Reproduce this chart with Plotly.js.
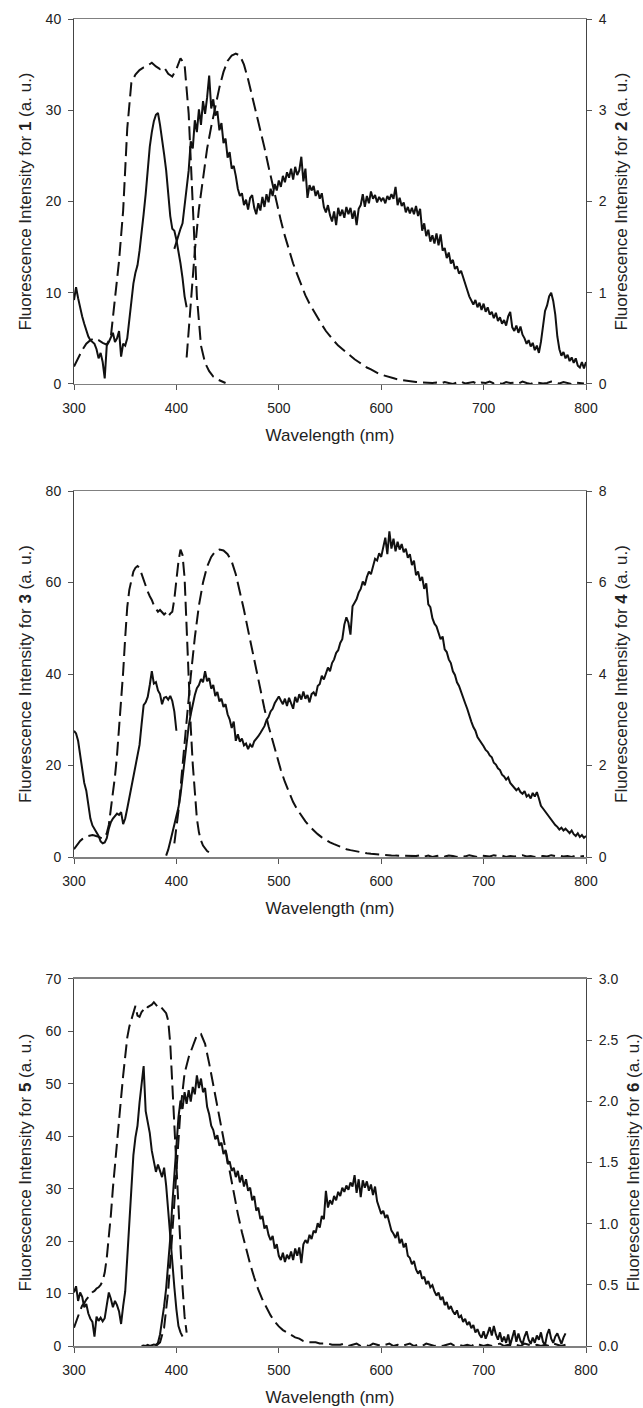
<!DOCTYPE html>
<html><head><meta charset="utf-8">
<script src="https://cdn.plot.ly/plotly-3.0.1.min.js"></script>
<style>html,body{margin:0;padding:0;background:#fff}#chart{width:643px;height:1408px}</style>
</head><body><div id="chart"></div>
<script>
// ---------- data (wavelength grids: start nm, step nm) ----------
const wavelengthTicks = [300, 400, 500, 600, 700, 800];

// Panel 1: compound 1 (solid, left axis), compound 2 (dashed, right axis)
const p1ExStart = 300, p1ExStep = 2;
const p1Ex1 = [9.2,10.6,9.4,8.2,7.4,6.6,5.8,5.2,4.8,4.6,4.4,3.8,2.8,3.4,2.4,0.6,4.2,4.6,5.2,5.6,4.6,5.0,5.8,3.0,4.4,4.2,5.0,7.2,9.6,11.0,12.2,13.0,14.6,16.4,18.6,20.8,23.6,26.0,27.6,28.8,29.5,29.7,28.4,27.0,25.2,23.4,20.6,18.4,17.0,16.8,15.8,14.6,13.2,11.6,9.6,8.4];
const p1EmStart = 398, p1EmStep = 2;
const p1Em1 = [14.8,15.6,16.2,17.0,17.6,19.4,21.2,23.4,26.6,25.8,28.9,27.6,30.1,28.4,31.0,29.6,31.4,33.8,30.2,31.2,29.4,29.9,27.8,28.6,26.4,26.9,24.8,25.4,23.6,23.9,22.8,21.4,20.6,20.9,19.6,20.2,19.1,20.4,20.7,19.3,18.6,19.8,19.0,20.5,19.4,20.8,19.9,21.4,20.6,21.9,21.2,22.3,21.6,22.8,22.1,23.2,22.6,23.6,22.4,23.8,22.9,23.4,24.9,22.2,23.6,20.4,21.8,21.2,21.7,20.6,21.2,20.3,20.9,19.4,18.8,19.6,18.5,17.8,18.9,17.4,19.3,18.4,19.1,18.2,19.4,18.6,19.3,18.1,19.0,17.4,19.2,19.6,20.8,19.4,20.6,19.8,21.1,20.3,20.7,19.9,20.5,20.1,20.4,19.8,20.6,20.2,20.8,20.3,21.6,19.6,20.4,19.5,19.9,18.8,19.4,18.7,19.3,18.6,19.5,18.4,19.2,16.8,17.6,16.2,16.9,15.6,16.3,15.4,16.5,15.2,16.4,14.6,14.9,13.8,14.4,13.2,13.6,12.6,12.9,12.1,12.4,11.6,10.9,10.3,9.6,9.1,8.7,9.2,8.4,8.9,8.1,8.8,7.9,8.4,7.6,7.9,7.2,7.8,6.9,7.3,6.6,7.0,6.4,7.4,7.9,6.2,5.8,6.4,5.6,6.3,5.4,5.0,4.4,4.8,4.1,4.5,3.7,4.2,3.4,4.6,6.4,8.0,8.6,9.6,10.0,9.1,7.6,5.2,3.8,3.1,3.5,2.8,3.2,2.5,2.9,2.3,2.8,2.0,1.8,2.4,1.7,2.4];
const p1DExStart = 300, p1DExStep = 4;
const p1Ex2 = [0.19,0.28,0.37,0.44,0.48,0.50,0.48,0.45,0.43,0.52,0.96,1.35,1.90,2.80,3.30,3.39,3.44,3.47,3.49,3.52,3.48,3.45,3.47,3.40,3.37,3.45,3.57,3.50,2.96,1.98,0.96,0.42,0.23,0.14,0.08,0.05,0.03,0.01];
const p1DEmStart = 410, p1DEmStep = 4;
const p1Em2 = [0.29,0.92,1.46,1.92,2.28,2.58,2.82,3.04,3.25,3.42,3.54,3.60,3.62,3.60,3.50,3.34,3.16,2.98,2.79,2.59,2.38,2.18,1.98,1.79,1.62,1.46,1.32,1.20,1.08,0.97,0.88,0.80,0.72,0.65,0.58,0.52,0.47,0.42,0.38,0.34,0.30,0.27,0.24,0.21,0.18,0.16,0.13,0.11,0.095,0.08,0.068,0.056,0.046,0.038,0.032,0.026,0.022,0.018,0.015,0.012,0.010,0.015,0.005,0.02,0.01,0.00,0.015,0.025,0.005,0.01,0.02,0.00,0.015,0.01,0.025,0.005,0.015,0.00,0.02,0.01,0.015,0.005,0.025,0.01,0.00,0.02,0.015,0.005,0.01,0.025,0.015,0.005,0.02,0.01,0.00,0.015,0.01,0.005];

// Panel 2: compound 3 (solid, left), compound 4 (dashed, right)
const p2ExStart = 300, p2ExStep = 2;
const p2Ex3 = [27.6,27.0,25.4,22.6,19.8,16.2,14.5,11.6,8.4,6.9,6.2,5.4,4.6,3.4,3.0,3.2,4.1,6.2,7.6,8.4,9.0,9.5,9.2,9.8,7.2,8.4,10.6,12.8,14.9,17.1,19.4,21.6,24.5,29.0,33.2,33.8,35.0,37.6,40.6,37.9,38.2,36.4,35.6,33.4,34.8,35.0,34.4,35.2,34.1,31.8,27.6];
const p2EmStart = 390, p2EmStep = 2;
const p2Em3 = [0.3,1.6,3.4,5.2,6.8,8.9,10.8,13.6,17.2,21.4,25.4,28.6,31.2,33.6,35.4,36.9,37.6,38.9,38.2,40.6,38.4,39.1,36.8,37.6,35.2,36.1,34.0,34.6,32.8,33.4,31.2,30.1,28.2,29.6,25.4,26.8,25.2,25.9,24.4,24.8,23.6,24.6,24.0,25.3,25.8,26.4,27.1,27.8,28.6,29.9,30.6,31.8,32.4,33.6,34.4,35.1,34.2,33.4,34.6,33.0,34.8,33.6,32.4,35.0,33.8,35.6,34.4,36.2,34.6,35.4,33.8,35.6,36.0,35.2,37.4,37.8,39.6,38.8,40.2,41.4,40.6,42.4,43.2,44.6,45.2,46.8,47.6,50.8,52.4,51.2,48.6,54.8,55.6,56.4,57.8,58.6,60.2,59.4,61.2,62.4,61.8,63.6,65.2,64.8,66.4,65.6,67.6,69.8,66.2,71.2,67.4,69.6,66.8,68.9,67.2,68.4,66.6,67.4,65.4,66.2,63.8,64.8,61.6,62.4,60.4,61.2,58.6,59.8,55.2,54.6,52.2,51.0,50.4,48.8,47.6,48.2,45.4,44.8,43.2,42.4,40.6,39.8,38.2,37.4,36.0,34.8,33.6,32.4,30.8,29.6,28.4,27.6,26.2,25.6,24.8,24.2,23.4,23.0,22.2,21.8,20.6,20.2,19.4,19.0,18.0,17.6,16.9,17.4,16.2,15.6,15.2,14.6,15.0,14.2,13.8,14.4,13.2,13.6,12.8,14.0,13.2,14.2,12.8,11.2,10.6,10.0,9.4,8.8,8.0,7.6,7.0,6.6,6.0,6.4,5.8,6.2,5.6,5.2,5.8,5.0,4.6,5.2,4.4,4.8,4.2,4.6];
const p2DExStart = 300, p2DExStep = 2;
const p2Ex4 = [0.17,0.24,0.30,0.35,0.39,0.42,0.44,0.46,0.47,0.48,0.47,0.46,0.44,0.42,0.41,0.43,0.52,0.70,1.02,1.36,1.76,2.22,2.80,3.40,4.04,4.80,5.46,5.84,6.08,6.24,6.32,6.36,6.32,6.18,6.06,5.94,5.80,5.70,5.62,5.50,5.42,5.36,5.40,5.34,5.30,5.34,5.26,5.32,5.36,5.64,6.06,6.46,6.72,6.60,6.10,4.90,3.80,2.84,2.02,1.36,0.84,0.54,0.36,0.25,0.18,0.13,0.10];
const p2DEmStart = 398, p2DEmStep = 4;
const p2Em4 = [0.30,1.00,2.00,3.00,3.95,4.80,5.50,6.00,6.35,6.56,6.68,6.72,6.70,6.62,6.46,6.18,5.82,5.40,4.96,4.52,4.08,3.64,3.24,2.86,2.52,2.20,1.90,1.64,1.40,1.20,1.04,0.90,0.78,0.67,0.58,0.50,0.43,0.37,0.32,0.28,0.24,0.20,0.17,0.15,0.13,0.11,0.09,0.08,0.07,0.06,0.05,0.045,0.04,0.035,0.03,0.025,0.02,0.02,0.015,0.02,0.04,0.01,0.03,0.00,0.02,0.04,0.01,0.03,0.02,0.00,0.03,0.01,0.04,0.02,0.00,0.03,0.02,0.01,0.04,0.02,0.03,0.00,0.02,0.01,0.03,0.04,0.01,0.02,0.00,0.03,0.02,0.01,0.04,0.02,0.03,0.01,0.02,0.00,0.03,0.01,0.02];

// Panel 3: compound 5 (solid, left), compound 6 (dashed, right)
const p3ExStart = 300, p3ExStep = 2;
const p3Ex5 = [10.2,11.4,8.6,10.2,9.4,7.4,8.0,6.2,5.2,4.6,1.8,5.6,4.8,5.4,4.7,5.3,7.8,10.2,9.0,7.4,8.6,7.8,6.6,4.2,7.6,10.4,16.8,23.6,30.2,36.4,39.8,42.0,46.4,49.6,53.4,44.8,43.0,40.6,37.2,34.8,33.2,34.6,33.4,32.2,34.0,30.6,25.8,20.6,15.8,11.2,7.0,3.8,2.6,1.8];
const p3EmStart = 366, p3EmStep = 2;
const p3Em5 = [0.0,0.1,0.0,0.2,0.0,0.1,0.3,0.2,0.6,2.2,4.6,7.6,11.0,15.4,20.6,27.0,33.2,39.4,43.6,46.8,45.2,48.4,46.2,48.8,46.6,49.4,48.0,51.6,49.2,51.0,48.4,49.2,45.6,44.2,42.0,41.2,39.4,40.2,38.2,38.8,36.6,37.4,34.8,35.2,33.4,34.0,32.2,33.4,31.2,32.6,30.4,31.8,29.6,30.2,27.8,28.6,25.8,26.4,24.2,24.8,22.4,23.0,21.2,20.2,21.0,18.6,19.4,17.2,16.4,17.8,16.0,17.4,16.6,18.0,16.4,18.6,17.2,18.8,15.8,19.4,20.2,19.6,21.2,20.4,22.0,21.6,23.4,22.6,24.8,24.2,29.6,26.4,27.8,27.0,28.6,27.8,29.4,28.6,30.2,29.4,30.6,29.8,31.2,30.4,32.6,29.2,31.8,28.4,31.6,30.2,31.4,29.6,30.8,28.8,30.4,27.6,26.4,25.2,25.8,24.4,25.0,23.2,22.0,21.4,20.6,21.8,19.6,20.4,18.8,19.6,17.2,16.8,15.6,16.2,14.6,13.8,14.4,12.8,13.2,11.8,12.4,11.2,11.6,10.4,9.6,10.2,8.8,9.4,7.8,8.4,7.0,7.6,6.6,6.0,6.8,5.4,5.8,4.6,5.2,4.0,4.6,3.4,4.0,2.6,3.2,2.2,1.6,2.8,1.4,2.4,3.6,2.0,3.8,2.2,1.2,2.6,0.8,1.8,0.6,2.2,0.2,1.6,3.0,0.8,2.4,1.0,0.4,1.8,2.8,1.2,0.4,1.6,0.6,2.0,1.2,2.6,0.8,0.2,2.2,3.2,1.4,0.6,1.8,2.4,1.2,0.4,1.6,2.4];
const p3DExStart = 300, p3DExStep = 2;
const p3Ex6 = [0.15,0.20,0.25,0.29,0.33,0.35,0.38,0.40,0.42,0.44,0.45,0.47,0.48,0.50,0.53,0.60,0.72,0.87,1.07,1.29,1.49,1.68,1.85,2.03,2.21,2.38,2.52,2.61,2.67,2.73,2.78,2.70,2.69,2.73,2.75,2.74,2.77,2.78,2.79,2.81,2.79,2.77,2.78,2.76,2.74,2.72,2.66,2.47,2.14,1.80,1.46,1.11,0.78,0.48,0.24,0.11];
const p3DEmStart = 380, p3DEmStep = 4;
const p3Em6 = [0.00,0.03,0.15,0.45,0.92,1.46,1.93,2.23,2.36,2.45,2.54,2.55,2.47,2.31,2.13,1.97,1.80,1.61,1.42,1.24,1.08,0.93,0.79,0.67,0.56,0.46,0.38,0.31,0.25,0.20,0.16,0.13,0.11,0.09,0.07,0.06,0.04,0.03,0.03,0.03,0.02,0.02,0.02,0.01,0.01,0.01,0.02,0.00,0.01,0.02,0.00,0.01,0.00,0.02,0.01,0.00,0.01,0.02,0.00,0.01,0.00,0.01,0.02,0.00,0.01,0.00,0.02,0.01,0.00,0.01,0.00,0.01,0.02,0.00,0.01,0.00,0.01,0.00,0.02,0.01,0.00,0.01,0.00,0.01,0.02,0.00,0.01,0.00,0.01,0.00,0.02,0.01,0.00,0.01,0.00,0.01,0.00,0.02,0.01,0.00,0.01];

// ---------- helpers ----------
function grid(start, step, n) { const a = []; for (let i = 0; i < n; i++) a.push(start + i * step); return a; }
const INK = '#111';
function solid(start, step, ys, xa, ya) {
  return {x: grid(start, step, ys.length), y: ys, xaxis: xa, yaxis: ya, mode: 'lines',
          line: {color: INK, width: 2}, hoverinfo: 'skip'};
}
function dashed(start, step, ys, xa, ya) {
  return {x: grid(start, step, ys.length), y: ys, xaxis: xa, yaxis: ya, mode: 'lines',
          line: {color: INK, width: 2, dash: '14px,6px'}, hoverinfo: 'skip'};
}

const data = [
  solid(p1ExStart, p1ExStep, p1Ex1, 'x', 'y'),
  solid(p1EmStart, p1EmStep, p1Em1, 'x', 'y'),
  dashed(p1DExStart, p1DExStep, p1Ex2, 'x', 'y2'),
  dashed(p1DEmStart, p1DEmStep, p1Em2, 'x', 'y2'),
  solid(p2ExStart, p2ExStep, p2Ex3, 'x2', 'y3'),
  solid(p2EmStart, p2EmStep, p2Em3, 'x2', 'y3'),
  dashed(p2DExStart, p2DExStep, p2Ex4, 'x2', 'y4'),
  dashed(p2DEmStart, p2DEmStep, p2Em4, 'x2', 'y4'),
  solid(p3ExStart, p3ExStep, p3Ex5, 'x3', 'y5'),
  solid(p3EmStart, p3EmStep, p3Em5, 'x3', 'y5'),
  dashed(p3DExStart, p3DExStep, p3Ex6, 'x3', 'y6'),
  dashed(p3DEmStart, p3DEmStep, p3Em6, 'x3', 'y6')
];

const FONT = 'Liberation Sans, Arial, Helvetica, sans-serif';
const TXT = '#222';
function xAxis(anchor) {
  return {anchor: anchor, domain: [0, 1], range: [300, 800], tickvals: wavelengthTicks,
    ticks: 'outside', ticklen: 5, tickwidth: 1, tickcolor: '#555', ticklabelstandoff: 6,
    showline: true, linecolor: '#808080', linewidth: 1.5, mirror: true,
    showgrid: false, zeroline: false, automargin: false,
    tickfont: {family: FONT, size: 14, color: TXT},
    title: {text: 'Wavelength (nm)', font: {family: FONT, size: 17, color: TXT}, standoff: 14}};
}
function yAxis(domain, range, dtick, n, right, overlay, anchor, fmt) {
  const ax = {domain: domain, range: range, dtick: dtick, tick0: 0,
    ticks: 'outside', ticklen: 5, tickwidth: 1, tickcolor: '#555', ticklabelstandoff: 4,
    showline: true, linecolor: '#444', linewidth: 1,
    showgrid: false, zeroline: false, automargin: false,
    tickfont: {family: FONT, size: 14, color: TXT},
    title: {text: 'Fluorescence Intensity for <b>' + n + '</b> (a. u.)',
            font: {family: FONT, size: 17, color: TXT}, standoff: 9}};
  if (right) { ax.side = 'right'; ax.overlaying = overlay; ax.anchor = anchor; }
  else { ax.anchor = anchor; }
  if (fmt) ax.tickformat = fmt;
  return ax;
}

const layout = {
  width: 643, height: 1408,
  margin: {l: 74, r: 57, t: 19, b: 62},
  paper_bgcolor: '#fff', plot_bgcolor: '#fff',
  showlegend: false,
  font: {family: FONT, size: 14, color: TXT},
  xaxis: xAxis('y'),
  xaxis2: xAxis('y3'),
  xaxis3: xAxis('y5'),
  yaxis:  yAxis([0.7250, 1.0], [0, 40], 10, '1', false, null, 'x'),
  yaxis2: yAxis([0.7250, 1.0], [0, 4], 1, '2', true, 'y', 'x'),
  yaxis3: yAxis([0.3685, 0.6443], [0, 80], 20, '3', false, null, 'x2'),
  yaxis4: yAxis([0.3685, 0.6443], [0, 8], 2, '4', true, 'y3', 'x2'),
  yaxis5: yAxis([0, 0.2766], [0, 70], 10, '5', false, null, 'x3'),
  yaxis6: yAxis([0, 0.2766], [0, 3], 0.5, '6', true, 'y5', 'x3', '.1f')
};

Plotly.newPlot('chart', data, layout, {displayModeBar: false, staticPlot: true});
</script>
</body></html>
